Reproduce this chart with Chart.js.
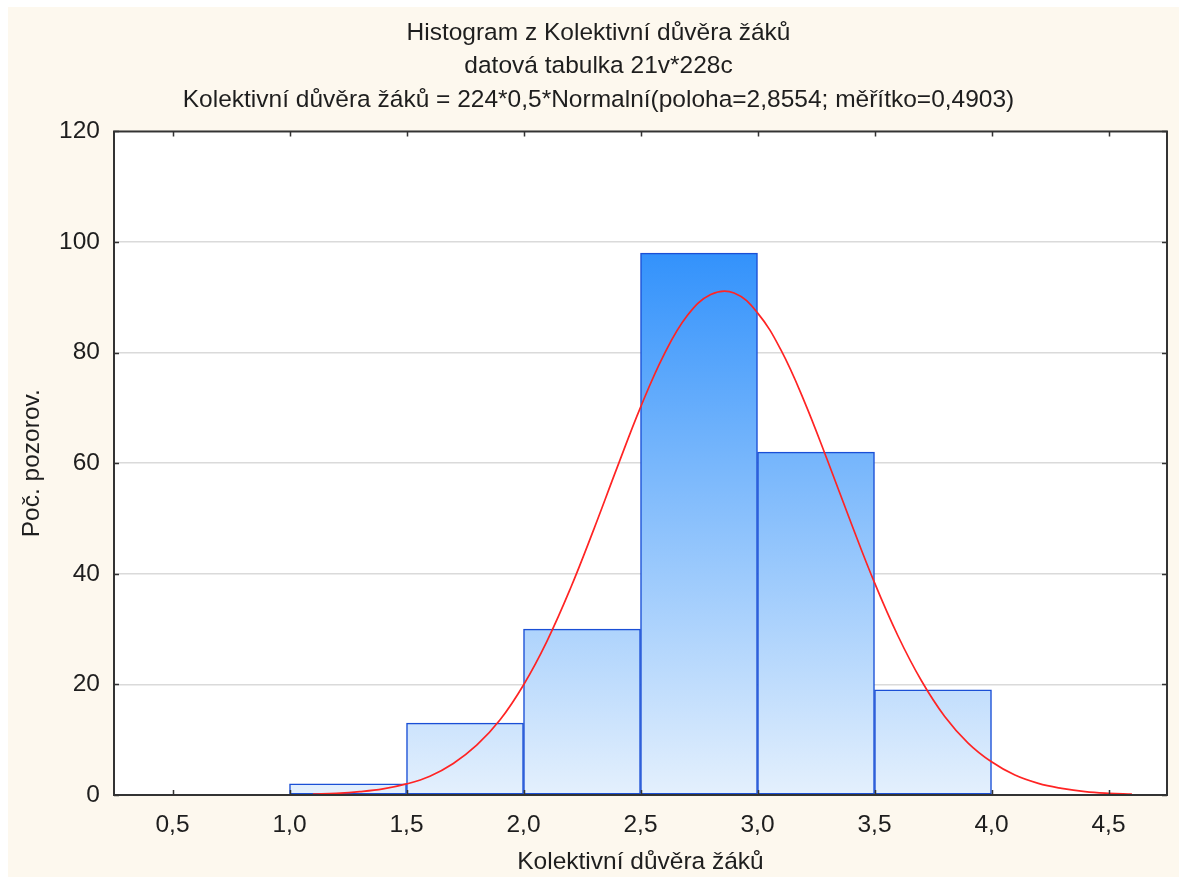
<!DOCTYPE html>
<html><head><meta charset="utf-8">
<script src="https://cdn.jsdelivr.net/npm/chart.js@4/dist/chart.umd.min.js"></script>
<style>
html,body{margin:0;padding:0;background:#fff;}
#wrap{position:absolute;left:8px;top:7px;width:1171px;height:870px;background:#fdf8ee;}
canvas{display:block;}
</style></head><body>
<div id="wrap"><canvas id="c" width="1171" height="870"></canvas></div>
<script>
const titleLines = [
  "Histogram z Kolektivní důvěra žáků",
  "datová tabulka 21v*228c",
  "Kolektivní důvěra žáků = 224*0,5*Normalní(poloha=2,8554; měřítko=0,4903)"
];
const xAxisTitle = "Kolektivní důvěra žáků";
const yAxisTitle = "Poč. pozorov.";
const binCenters = [1.25, 1.75, 2.25, 2.75, 3.25, 3.75];
const binCounts = [2, 13, 30, 98, 62, 19];
const curveX = [1.1,1.2,1.3,1.4,1.5,1.6,1.7,1.8,1.9,2.0,2.1,2.2,2.3,2.4,2.5,2.6,2.7,2.8,2.9,3.0,3.1,3.2,3.3,3.4,3.5,3.6,3.7,3.8,3.9,4.0,4.1,4.2,4.3,4.4,4.5,4.6];
const curveY = [0.15,0.3,0.6,1.1,2.0,3.4,5.7,9.0,13.6,19.9,27.8,37.3,48.0,59.2,70.1,79.6,86.7,90.5,90.8,87.2,80.5,71.2,60.4,49.2,38.4,28.8,20.7,14.2,9.4,6.0,3.6,2.1,1.2,0.6,0.3,0.15];
const xTicks = [0.5, 1.0, 1.5, 2.0, 2.5, 3.0, 3.5, 4.0, 4.5];
const yTicks = [0, 20, 40, 60, 80, 100, 120];

const FONT = '"Liberation Sans", Arial, sans-serif';
const TXT = '#1e1e1e';

const framePlugin = {
  id: 'frame',
  beforeDraw(chart) {
    const {ctx, chartArea: a} = chart;
    ctx.save();
    ctx.fillStyle = '#ffffff';
    ctx.fillRect(a.left, a.top, a.right - a.left, a.bottom - a.top);
    ctx.restore();
  },
  afterDraw(chart) {
    const {ctx, chartArea: a, scales} = chart;
    ctx.save();
    ctx.strokeStyle = '#333333';
    ctx.lineWidth = 2;
    ctx.strokeRect(a.left, a.top, a.right - a.left, a.bottom - a.top);
    ctx.lineWidth = 1.5;
    ctx.beginPath();
    const L = 5;
    xTicks.forEach(v => {
      const px = Math.round(scales.x.getPixelForValue(v)) + 0.5;
      ctx.moveTo(px, a.bottom); ctx.lineTo(px, a.bottom - L);
      ctx.moveTo(px, a.top); ctx.lineTo(px, a.top + L);
    });
    yTicks.forEach(v => {
      const py = Math.round(scales.y.getPixelForValue(v)) + 0.5;
      ctx.moveTo(a.left, py); ctx.lineTo(a.left + L, py);
      ctx.moveTo(a.right, py); ctx.lineTo(a.right - L, py);
    });
    ctx.stroke();
    ctx.restore();
  }
};

new Chart(document.getElementById('c'), {
  type: 'bar',
  data: {
    datasets: [
      {
        type: 'line',
        data: curveX.map((x, i) => ({x: x, y: curveY[i]})),
        borderColor: '#ff2424',
        borderWidth: 1.7,
        pointRadius: 0,
        tension: 0.4,
        fill: false,
        order: 0
      },
      {
        type: 'bar',
        data: binCenters.map((x, i) => ({x: x, y: binCounts[i]})),
        backgroundColor: (ctx) => {
          const chart = ctx.chart;
          if (!chart.chartArea) return '#9cf';
          const ys = chart.scales.y;
          const g = chart.ctx.createLinearGradient(0, ys.getPixelForValue(120), 0, ys.getPixelForValue(0));
          g.addColorStop(0, '#0b7dfb');
          g.addColorStop(1, '#e4f0fd');
          return g;
        },
        borderColor: '#1a4fd6',
        borderWidth: 1.5,
        borderSkipped: false,
        barPercentage: 1,
        categoryPercentage: 1,
        order: 1
      }
    ]
  },
  options: {
    responsive: false,
    animation: false,
    devicePixelRatio: 1,
    layout: {padding: {left: 10, right: 0, top: 0, bottom: 0}},
    plugins: {
      legend: {display: false},
      tooltip: {enabled: false},
      title: {
        display: true,
        text: titleLines,
        color: TXT,
        font: {family: FONT, size: 24.5, weight: 'normal', lineHeight: 1.367},
        padding: {top: 9.25, bottom: 14.75}
      }
    },
    scales: {
      x: {
        type: 'linear',
        min: 0.25,
        max: 4.75,
        offset: false,
        afterBuildTicks: (s) => { s.ticks = xTicks.map(v => ({value: v})); },
        afterFit: (s) => { s.height = 82; },
        ticks: {
          color: TXT,
          font: {family: FONT, size: 24.5},
          padding: 8,
          maxRotation: 0,
          autoSkip: false,
          callback: (v) => Number(v).toFixed(1).replace('.', ',')
        },
        grid: {display: false, offset: false},
        border: {display: false},
        title: {
          display: true,
          text: xAxisTitle,
          color: TXT,
          font: {family: FONT, size: 24.5},
          padding: {top: 0, bottom: 0}
        }
      },
      y: {
        min: 0,
        max: 120,
        afterBuildTicks: (s) => { s.ticks = yTicks.map(v => ({value: v})); },
        afterFit: (s) => { s.width = 96; },
        ticks: {
          color: TXT,
          font: {family: FONT, size: 24.5},
          padding: 14
        },
        grid: {
          drawTicks: false,
          lineWidth: 1.5,
          color: (ctx) => (ctx.tick && (ctx.tick.value === 0 || ctx.tick.value === 120)) ? 'rgba(0,0,0,0)' : '#dadada'
        },
        border: {display: false},
        title: {
          display: true,
          text: yAxisTitle,
          color: TXT,
          font: {family: FONT, size: 24.5},
          padding: {top: 0, bottom: 0}
        }
      },
      yR: {
        position: 'right',
        display: true,
        min: 0,
        max: 120,
        afterFit: (s) => { s.width = 12; },
        ticks: {display: false},
        grid: {display: false, drawTicks: false},
        border: {display: false}
      }
    }
  },
  plugins: [framePlugin]
});
</script>
</body></html>
